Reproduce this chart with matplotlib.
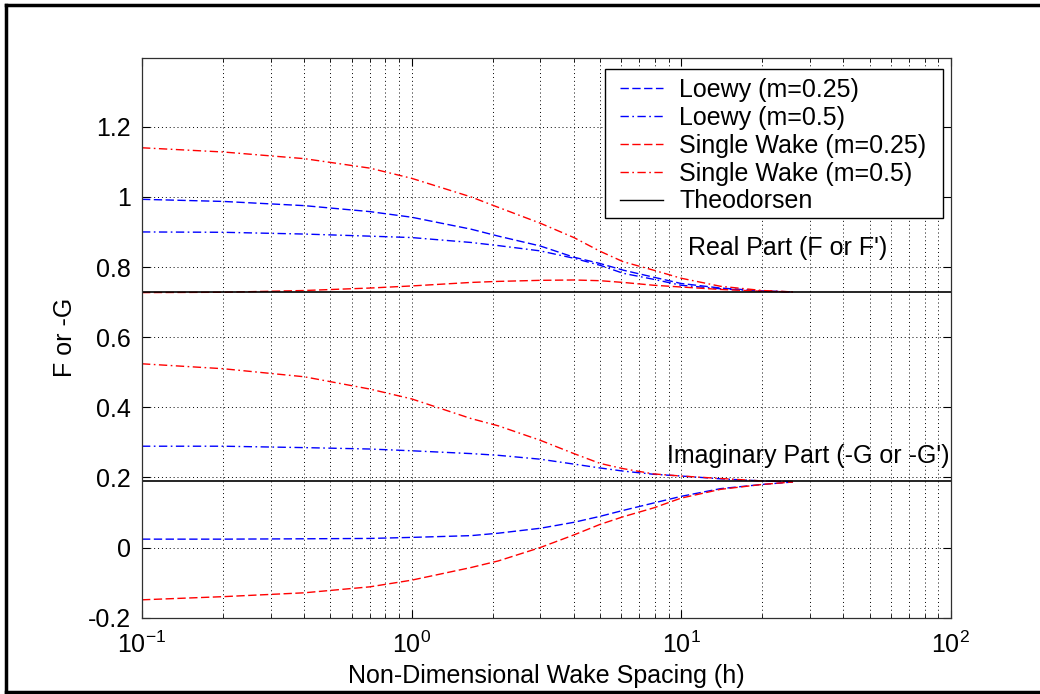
import math
import matplotlib
matplotlib.use("Agg")
import matplotlib.pyplot as plt
from matplotlib.ticker import FixedLocator, FuncFormatter, LogLocator, NullFormatter
from matplotlib.lines import Line2D
from matplotlib.patches import Rectangle

plt.rcParams['font.family'] = ['Liberation Sans', 'DejaVu Sans']
plt.rcParams['mathtext.fontset'] = 'custom'
plt.rcParams['mathtext.rm'] = 'Liberation Sans'
plt.rcParams['mathtext.it'] = 'Liberation Sans:italic'
plt.rcParams['axes.unicode_minus'] = False

# ---------------- data ----------------
h = [0.1, 0.2, 0.4, 0.7, 1.0, 1.66, 2.1, 3.0, 4.0, 5.0, 6.1, 7.9, 10, 14, 20, 26]

loewy_025_real = [0.993, 0.987, 0.975, 0.958, 0.942, 0.908, 0.888, 0.860, 0.828, 0.810,
                  0.791, 0.771, 0.753, 0.740, 0.732, 0.729]
loewy_05_real = [0.900, 0.899, 0.894, 0.888, 0.884, 0.870, 0.861, 0.846, 0.825, 0.805,
                 0.782, 0.765, 0.748, 0.738, 0.731, 0.729]
single_025_real = [0.727, 0.728, 0.733, 0.740, 0.746, 0.756, 0.759, 0.762, 0.763, 0.761,
                   0.756, 0.748, 0.743, 0.736, 0.731, 0.729]
single_05_real = [1.140, 1.128, 1.109, 1.082, 1.053, 1.000, 0.970, 0.925, 0.884, 0.845,
                  0.815, 0.791, 0.768, 0.745, 0.733, 0.729]

loewy_025_imag = [0.024, 0.024, 0.025, 0.026, 0.029, 0.034, 0.041, 0.055, 0.072, 0.089,
                  0.106, 0.127, 0.146, 0.168, 0.180, 0.187]
loewy_05_imag = [0.289, 0.289, 0.285, 0.281, 0.276, 0.268, 0.263, 0.252, 0.238, 0.227,
                 0.218, 0.209, 0.204, 0.196, 0.190, 0.188]
single_025_imag = [-0.149, -0.140, -0.129, -0.112, -0.093, -0.057, -0.038, 0.000, 0.036, 0.066,
                   0.088, 0.113, 0.141, 0.166, 0.180, 0.187]
single_05_imag = [0.524, 0.510, 0.487, 0.452, 0.424, 0.368, 0.347, 0.306, 0.268, 0.240,
                  0.225, 0.210, 0.204, 0.197, 0.190, 0.188]

theodorsen_F = 0.7276
theodorsen_negG = 0.1886

legend_labels = ['Loewy (m=0.25)', 'Loewy (m=0.5)', 'Single Wake (m=0.25)',
                 'Single Wake (m=0.5)', 'Theodorsen']
y_ticks = [-0.2, 0, 0.2, 0.4, 0.6, 0.8, 1, 1.2]
y_tick_labels = ['-0.2', '0', '0.2', '0.4', '0.6', '0.8', '1', '1.2']
x_ticks = [0.1, 1, 10, 100]

# ---------------- figure ----------------
W, H = 1040, 694
fig = plt.figure(figsize=(W / 100, H / 100), dpi=100)
ax = fig.add_axes([142 / W, 1 - 617.7 / H, (950.7 - 142) / W, (617.7 - 58) / H])

FS = 18
dash = (6, 2.5)
dashdot = (6, 2.5, 1.2, 2.5)
lw = 1.0

ax.plot(h, loewy_025_real, color='b', lw=lw, dashes=dash)
ax.plot(h, loewy_05_real, color='b', lw=lw, dashes=dashdot)
ax.plot(h, single_025_real, color='r', lw=lw, dashes=dash)
ax.plot(h, single_05_real, color='r', lw=lw, dashes=dashdot)
ax.plot(h, loewy_025_imag, color='b', lw=lw, dashes=dash)
ax.plot(h, loewy_05_imag, color='b', lw=lw, dashes=dashdot)
ax.plot(h, single_025_imag, color='r', lw=lw, dashes=dash)
ax.plot(h, single_05_imag, color='r', lw=lw, dashes=dashdot)
ax.axhline(theodorsen_F, color='k', lw=1.2)
ax.axhline(theodorsen_negG, color='k', lw=1.2)

ax.set_xscale('log')
ax.set_xlim(0.1, 100)
ax.set_ylim(-0.2, 1.396)

ax.xaxis.set_major_locator(FixedLocator(x_ticks))
ax.xaxis.set_major_formatter(FuncFormatter(
    lambda v, p: r'$\mathregular{10^{%d}}$' % round(math.log10(v))))
ax.xaxis.set_minor_locator(LogLocator(base=10, subs=range(2, 10)))
ax.xaxis.set_minor_formatter(NullFormatter())
ax.yaxis.set_major_locator(FixedLocator(y_ticks))
ax.set_yticklabels(y_tick_labels)

ax.tick_params(axis='both', which='both', direction='in', top=True, right=True,
               labelsize=FS, color='k')
ax.tick_params(axis='both', which='major', length=6, width=0.8)
ax.tick_params(axis='y', which='major', pad=8)
ax.tick_params(axis='x', which='major', pad=10)
ax.tick_params(axis='x', which='minor', length=3, width=0.6)
ax.grid(True, which='major', axis='both', linestyle=(0, (1, 3)), color='k', lw=0.7)
ax.grid(True, which='minor', axis='x', linestyle=(0, (1, 3)), color='k', lw=0.7)
for s in ax.spines.values():
    s.set_linewidth(0.9)
    s.set_color('#303030')

ax.set_xlabel('Non-Dimensional Wake Spacing (h)', fontsize=FS, labelpad=4)
ax.set_ylabel('F or -G', fontsize=FS, labelpad=8)

ax.text(10.6, 0.854, "Real Part (F or F')", fontsize=FS, va='center', ha='left')
ax.text(8.87, 0.262, "Imaginary Part (-G or -G')", fontsize=FS, va='center', ha='left')

# legend box (drawn as a separate rectangle, MATLAB style)
box = Rectangle((605 / W, 1 - 218.3 / H), (942.7 - 605) / W, (218.3 - 69.3) / H,
                transform=fig.transFigure, facecolor='white', edgecolor='k',
                lw=1.0, zorder=4.5)
ax.add_artist(box)

handles = [
    Line2D([], [], color='b', lw=lw, dashes=dash),
    Line2D([], [], color='b', lw=lw, dashes=dashdot),
    Line2D([], [], color='r', lw=lw, dashes=dash),
    Line2D([], [], color='r', lw=lw, dashes=dashdot),
    Line2D([], [], color='k', lw=lw),
]
leg = ax.legend(handles, legend_labels, loc='upper left',
                bbox_to_anchor=(620 / W, 1 - 78.1 / H), bbox_transform=fig.transFigure,
                fontsize=FS, frameon=False,
                handlelength=1.72, handletextpad=0.64, borderpad=0,
                labelspacing=0.152, borderaxespad=0)
leg.set_zorder(5)

# outer figure frame (left, top, bottom edges visible)
fl = 6 / W
ft = 1 - 5 / H
fb = 1 - 692 / H
for xs, ys in [((fl, fl), (fb, ft)), ((fl, 1.01), (ft, ft)), ((fl, 1.01), (fb, fb))]:
    fig.add_artist(Line2D(xs, ys, transform=fig.transFigure, color='k', lw=2.5))

fig.savefig('out.png', dpi=100)
